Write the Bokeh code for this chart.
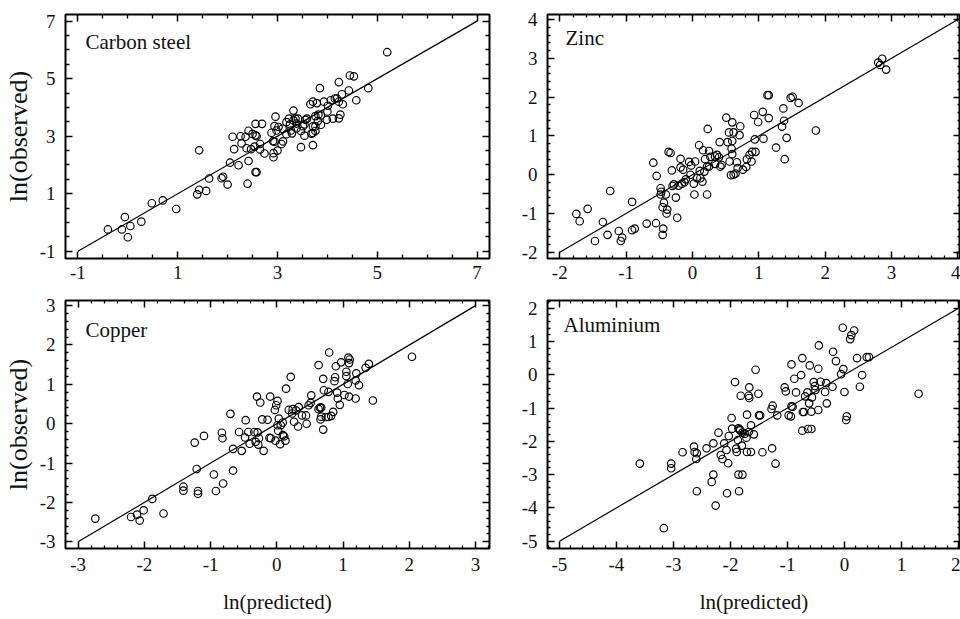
import numpy as np
from bokeh.plotting import figure
from bokeh.models import LinearAxis, FixedTicker, Label, Range1d
from bokeh.layouts import column, row
from bokeh.embed import file_html
from bokeh.resources import INLINE

FONT = "Liberation Serif"

# ---------------- data ----------------
cs_pred = [-0.40, -0.12, -0.06, 0.05, 0.00, 0.27, 0.48, 0.70, 0.97, 1.39, 1.43, 1.57, 1.43, 1.63, 1.88, 1.91,
           2.00, 2.05, 2.22, 2.10, 2.26, 2.13, 2.28, 2.36, 2.38, 2.42, 2.42, 2.40, 2.50, 2.56, 2.58, 2.56,
           2.69, 2.54, 2.65, 2.65, 2.47, 2.56, 2.58, 2.74, 2.88, 2.91, 2.94, 2.92, 2.92, 2.96, 2.94, 2.98,
           3.00, 3.02, 3.08, 3.11, 3.10, 3.18, 3.18, 3.23, 3.25, 3.27, 3.29, 3.32, 3.32, 3.36, 3.38, 3.41,
           3.38, 3.47, 3.47, 3.51, 3.54, 3.54, 3.56, 3.59, 3.66, 3.71, 3.79, 3.68, 3.71, 3.76, 3.71, 3.76,
           3.71, 3.76, 3.82, 3.87, 3.87, 3.85, 3.81, 3.93, 4.00, 4.01, 3.99, 4.07, 4.11, 4.15, 4.19, 4.23,
           4.23, 4.23, 4.26, 4.29, 4.31, 4.43, 4.45, 4.53, 4.58, 4.82, 5.20]
cs_obs = [-0.24, -0.24, 0.19, -0.12, -0.51, 0.03, 0.67, 0.77, 0.47, 0.98, 1.14, 1.10, 2.51, 1.53, 1.54, 1.59,
          1.32, 2.08, 1.99, 2.98, 3.00, 2.55, 2.75, 2.98, 2.58, 3.19, 2.14, 1.35, 3.08, 3.03, 3.00, 3.43,
          3.43, 2.64, 2.73, 2.54, 2.55, 1.75, 1.75, 2.40, 3.12, 2.83, 2.81, 2.41, 2.27, 3.68, 3.35, 3.20,
          2.50, 3.32, 2.73, 2.82, 3.26, 3.07, 3.49, 3.61, 3.41, 3.20, 3.10, 3.89, 3.55, 3.61, 3.44, 3.61,
          3.27, 2.62, 3.18, 3.35, 3.41, 3.02, 3.57, 3.61, 4.11, 4.20, 4.15, 3.09, 3.11, 3.18, 3.34, 3.34,
          2.69, 3.70, 3.75, 3.72, 3.40, 4.67, 3.53, 4.20, 3.86, 4.06, 3.57, 4.25, 3.61, 4.31, 4.31, 4.88,
          4.20, 3.62, 3.75, 4.46, 4.11, 4.59, 5.11, 5.08, 4.25, 4.67, 5.92]

zn_pred = [-1.75, -1.70, -1.58, -1.47, -1.35, -1.28, -1.24, -1.11, -1.06, -1.08, -0.91, -0.87, -0.91, -0.69,
           -0.59, -0.55, -0.54, -0.48, -0.47, -0.48, -0.44, -0.45, -0.43, -0.45, -0.40, -0.38, -0.39, -0.36,
           -0.33, -0.31, -0.30, -0.28, -0.25, -0.23, -0.21, -0.18, -0.18, -0.16, -0.14, -0.12, -0.10, -0.05,
           -0.03, -0.02, 0.04, 0.02, 0.03, 0.07, 0.10, 0.11, 0.12, 0.15, 0.16, 0.19, 0.18, 0.22, 0.22, 0.23,
           0.25, 0.25, 0.27, 0.34, 0.37, 0.34, 0.40, 0.41, 0.42, 0.44, 0.51, 0.53, 0.55, 0.56, 0.58, 0.59,
           0.60, 0.60, 0.60, 0.62, 0.62, 0.65, 0.67, 0.68, 0.71, 0.72, 0.76, 0.81, 0.82, 0.86, 0.89, 0.90,
           0.95, 0.93, 0.94, 0.99, 1.06, 1.07, 1.13, 1.15, 1.15, 1.26, 1.35, 1.37, 1.38, 1.39, 1.42, 1.48,
           1.51, 1.60, 1.86, 2.80, 2.83, 2.86, 2.92]
zn_obs = [-1.01, -1.20, -0.88, -1.71, -1.22, -1.55, -0.42, -1.45, -1.62, -1.71, -1.43, -1.39, -0.70, -1.26,
          0.31, -1.25, -0.03, -0.35, -0.44, -0.51, -1.39, -1.55, -0.72, -0.84, -0.51, -0.90, -1.00, 0.59,
          0.56, 0.11, -0.29, -0.25, -0.59, -1.11, -0.28, 0.41, 0.19, -0.23, 0.13, -0.19, -0.12, 0.33,
          0.00, 0.24, 0.34, -0.23, -0.51, -0.09, 0.76, 0.10, -0.09, -0.18, 0.63, 0.40, 0.08, 0.21, -0.51, 1.18,
          0.61, 0.21, 0.46, 0.47, 0.51, 0.28, 0.45, 0.84, 0.21, 0.25, 1.47, 0.84, 1.09, 0.34, -0.01, 0.67,
          1.35, 0.53, 0.87, 1.09, 0.00, 0.03, 0.32, 0.17, 1.02, 1.25, 0.13, 0.20, 0.40, 0.51, 0.34, 0.59,
          0.59, 1.54, 0.91, 1.36, 1.62, 0.93, 2.05, 2.05, 1.46, 0.70, 1.24, 1.71, 1.39, 0.40, 0.95, 1.98,
          2.01, 1.85, 1.14, 2.89, 2.83, 2.99, 2.71]

cu_pred = [-2.74, -2.20, -2.11, -2.07, -2.01, -1.88, -1.71, -1.41, -1.41, -1.24, -1.21, -1.19, -1.19, -1.10,
           -0.95, -0.92, -0.83, -0.82, -0.81, -0.70, -0.66, -0.66, -0.57, -0.53, -0.48, -0.47, -0.43, -0.41,
           -0.34, -0.32, -0.30, -0.29, -0.28, -0.27, -0.25, -0.22, -0.20, -0.14, -0.10, -0.11, -0.09, -0.03,
           -0.02, -0.01, 0.01, 0.01, 0.02, 0.03, 0.05, 0.06, 0.09, 0.09, 0.11, 0.13, 0.14, 0.18, 0.21, 0.23,
           0.24, 0.26, 0.29, 0.32, 0.33, 0.38, 0.44, 0.45, 0.48, 0.51, 0.52, 0.63, 0.63, 0.65, 0.67, 0.67,
           0.66, 0.70, 0.70, 0.71, 0.74, 0.78, 0.79, 0.78, 0.82, 0.85, 0.87, 0.88, 0.89, 0.91, 0.92, 0.95,
           0.97, 1.02, 1.05, 1.05, 1.07, 1.08, 1.09, 1.09, 1.10, 1.19, 1.20, 1.19, 1.24, 1.34, 1.39, 1.45, 2.04]
cu_obs = [-2.41, -2.37, -2.31, -2.46, -2.20, -1.91, -2.28, -1.60, -1.70, -0.48, -1.15, -1.71, -1.78, -0.31,
          -1.29, -1.71, -0.23, -0.37, -1.52, 0.25, -0.64, -1.19, -0.21, -0.69, -0.35, 0.09, -0.21, -0.51,
          -0.21, -0.46, 0.69, -0.22, -0.53, -0.37, 0.54, 0.11, -0.69, 0.10, 0.69, -0.36, -0.37, 0.35,
          -0.43, 0.47, 0.58, -0.04, -0.18, 0.13, -0.52, -0.04, 0.03, -0.29, -0.32, -0.43, 0.89, 0.35, 1.19, 0.26,
          0.37, 0.05, 0.34, -0.07, 0.42, 0.21, 0.21, 0.00, 0.47, 0.53, 0.72, 1.49, 0.37, 0.41, 0.18, 0.41,
          0.11, -0.15, 1.14, 0.85, 0.17, 0.81, 1.81, 0.17, 0.20, 0.30, 1.08, 1.18, 1.46, 0.79, 0.64, 0.48,
          1.56, 0.73, 1.21, 1.32, 1.01, 1.68, 1.54, 0.69, 1.63, 0.64, 1.28, 1.10, 0.98, 1.42, 1.52, 0.59, 1.70]

al_pred = [-3.59, -3.17, -3.04, -3.04, -2.84, -2.64, -2.63, -2.59, -2.60, -2.59, -2.42, -2.30, -2.30, -2.33,
           -2.26, -2.21, -2.17, -2.14, -2.11, -2.07, -2.04, -2.06, -2.03, -1.98, -1.97, -1.92, -1.90, -1.89,
           -1.87, -1.86, -1.84, -1.86, -1.79, -1.85, -1.83, -1.82, -1.79, -1.80, -1.75, -1.72, -1.71, -1.71,
           -1.68, -1.67, -1.68, -1.67, -1.64, -1.64, -1.59, -1.56, -1.51, -1.50, -1.48, -1.44, -1.28, -1.26,
           -1.27, -1.21, -1.18, -1.05, -1.03, -0.98, -0.94, -0.93, -0.93, -0.91, -0.88, -0.85, -0.76, -0.74,
           -0.74, -0.73, -0.71, -0.69, -0.65, -0.64, -0.61, -0.62, -0.58, -0.58, -0.57, -0.54, -0.52, -0.51,
           -0.46, -0.45, -0.46, -0.42, -0.34, -0.32, -0.31, -0.21, -0.20, -0.15, -0.06, -0.03, -0.02, 0.00,
           0.04, 0.03, 0.10, 0.12, 0.17, 0.22, 0.27, 0.31, 0.39, 0.43, 1.30]
al_obs = [-2.67, -4.61, -2.67, -2.81, -2.33, -2.16, -2.32, -2.36, -2.53, -3.50, -2.21, -2.06, -3.00, -3.22,
          -3.93, -1.74, -2.41, -2.53, -2.06, -2.26, -2.66, -3.56, -1.84, -1.30, -1.62, -0.22, -2.22, -2.32,
          -1.96, -1.61, -1.64, -3.00, -3.00, -3.50, -1.67, -0.63, -1.74, -2.13, -1.77, -1.89, -1.20, -2.32,
          -1.72, -0.38, -0.63, -0.70, -2.32, -1.52, -1.79, 0.15, -0.57, -1.22, -1.22, -2.33, -1.03, -0.93,
          -2.21, -2.67, -1.22, -0.38, -0.50, -1.22, -1.25, 0.31, -0.95, -0.96, -0.12, -0.53, -0.01, 0.50,
          -1.68, -1.12, -1.12, -0.65, -0.53, -1.63, 0.28, -0.86, -1.11, -1.63, -0.68, -0.22, -0.34, -0.46,
          0.18, 0.88, -1.06, -0.21, -0.52, -0.25, -0.86, -0.36, 0.69, 0.41, 0.02, 1.41, 0.17, -0.52,
          -1.25, -1.36, 1.07, 1.19, 1.33, 0.50, -0.36, -0.01, 0.53, 0.53, -0.57]

# axis ticks (labelled values) and minor tick steps
cs_ticks = [-1, 1, 3, 5, 7]
zn_ticks = [-2, -1, 0, 1, 2, 3, 4]
cu_ticks = [-3, -2, -1, 0, 1, 2, 3]
al_x_ticks = [-5, -4, -3, -2, -1, 0, 1, 2]
al_y_ticks = [-5, -4, -3, -2, -1, 0, 1, 2]

panel_names = ["Carbon steel", "Zinc", "Copper", "Aluminium"]
x_title = "ln(predicted)"
y_title = "ln(observed)"


def minor_list(majors, step):
    lo, hi = min(majors) - 1, max(majors) + 1
    vals = np.round(np.arange(lo, hi + step / 2, step), 6)
    return [float(v) for v in vals if not any(abs(v - m) < 1e-9 for m in majors)]


def style_axis(ax, majors, step, show_labels, standoff):
    ax.ticker = FixedTicker(ticks=majors, minor_ticks=minor_list(majors, step))
    ax.axis_line_color = None
    ax.major_tick_in = 7
    ax.major_tick_out = 0
    ax.minor_tick_in = 4 if step >= 0.5 else 3
    ax.minor_tick_out = 0
    ax.major_tick_line_width = 1.5
    ax.minor_tick_line_width = 1.3
    ax.major_tick_line_color = "black"
    ax.minor_tick_line_color = "black"
    ax.major_label_text_font = FONT
    if show_labels:
        ax.major_label_overrides = {m: f"{m:g}" for m in majors}
        ax.major_label_text_color = "#111111"
        ax.major_label_text_font_size = "19px"
        ax.major_label_standoff = standoff
    else:
        ax.major_label_text_color = None
        ax.major_label_text_font_size = "1px"
        ax.major_label_standoff = 0


def panel(px, py, name, xr, yr, xt, yt, xstep, ystep, w, h, bl, br, bt, bb,
          name_dx, name_dy, xstand, xlabel=None, ylabel=None):
    p = figure(width=w, height=h, x_range=Range1d(*xr), y_range=Range1d(*yr),
               output_backend="svg", toolbar_location=None,
               min_border_left=bl, min_border_right=br, min_border_top=bt, min_border_bottom=bb)
    p.xgrid.visible = False
    p.ygrid.visible = False
    p.outline_line_color = "black"
    p.outline_line_width = 2
    p.background_fill_color = "white"
    p.border_fill_color = "white"

    bottom_ax = p.below[0]
    left_ax = p.left[0]
    style_axis(bottom_ax, xt, xstep, True, xstand)
    style_axis(left_ax, yt, ystep, True, 10)
    top = LinearAxis()
    right = LinearAxis()
    style_axis(top, xt, xstep, False, 0)
    style_axis(right, yt, ystep, False, 0)
    p.add_layout(top, "above")
    p.add_layout(right, "right")

    if xlabel:
        bottom_ax.axis_label = xlabel
        bottom_ax.axis_label_text_font = FONT
        bottom_ax.axis_label_text_font_size = "21px"
        bottom_ax.axis_label_text_font_style = "normal"
        bottom_ax.axis_label_text_color = "#111111"
        bottom_ax.axis_label_standoff = 16
    if ylabel:
        left_ax.axis_label = ylabel
        left_ax.axis_label_text_font = FONT
        left_ax.axis_label_text_font_size = "26px"
        left_ax.axis_label_text_font_style = "normal"
        left_ax.axis_label_text_color = "#111111"
        left_ax.axis_label_standoff = 4

    lo = max(xt[0], yt[0])
    hi = min(xt[-1], yt[-1])
    p.line([lo, hi], [lo, hi], line_color="black", line_width=1.2)
    p.scatter(px, py, marker="circle", size=7.5, fill_color=None, line_color="black", line_width=1.15)

    fh = h - bt - bb
    p.add_layout(Label(x=name_dx, y=fh - name_dy, x_units="screen", y_units="screen",
                       text=name, text_font=FONT, text_font_size="21px",
                       text_color="#111111", text_baseline="alphabetic"))
    return p


f1 = panel(cs_pred, cs_obs, panel_names[0], (-1.25, 7.25), (-1.25, 7.23), cs_ticks, cs_ticks, 0.5, 0.5,
           500, 293, 65, 11, 14, 29, 20, 33, 7, ylabel=y_title)
f2 = panel(zn_pred, zn_obs, panel_names[1], (-2.185, 4.04), (-2.16, 4.13), zn_ticks, zn_ticks, 0.2, 0.2,
           460, 293, 47, 0, 9, 35, 18, 28, 7)
f3 = panel(cu_pred, cu_obs, panel_names[2], (-3.19, 3.21), (-3.17, 3.13), cu_ticks, cu_ticks, 0.2, 0.2,
           500, 326, 65, 11, 6, 71, 20, 30, 9, xlabel=x_title, ylabel=y_title)
f4 = panel(al_pred, al_obs, panel_names[3], (-5.21, 2.035), (-5.22, 2.23), al_x_ticks, al_y_ticks, 0.2, 0.2,
           460, 326, 47, 0, 7, 67, 16, 28, 9, xlabel=x_title)

layout = column(row(f1, f2, spacing=0), row(f3, f4, spacing=0), spacing=0)

open("out.html", "w").write(file_html(layout, INLINE))
